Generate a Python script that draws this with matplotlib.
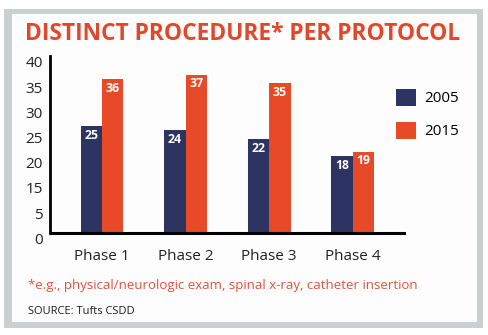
import numpy as np
import matplotlib
matplotlib.use("Agg")
import matplotlib.pyplot as plt
from matplotlib.patches import Rectangle

# data
phases = ["Phase 1", "Phase 2", "Phase 3", "Phase 4"]
series_names = ["2005", "2015"]
vals_2005 = [25, 24, 22, 18]
vals_2015 = [36, 37, 35, 19]
ytick_labels = ["0", "5", "15", "20", "25", "30", "35", "40"]

NAVY = "#2e3461"
ORANGE = "#e84a27"
TITLE_C = "#e1472a"
NOTE_C = "#e0533b"
FRAME = "#c9d0cf"
FONT = "Open Sans"

W, H = 489, 335
fig = plt.figure(figsize=(W / 100, H / 100), dpi=100)
fig.patch.set_facecolor("white")


def px_rect(x0, y0, x1, y1, color, z):
    # rectangle given in pixel coords (y downward)
    fig.patches.append(Rectangle((x0 / W, 1 - y1 / H), (x1 - x0) / W, (y1 - y0) / H,
                                 transform=fig.transFigure, facecolor=color,
                                 edgecolor="none", zorder=z))


# grey frame around the panel
px_rect(4, 9, 483, 328, FRAME, 0)
px_rect(12, 14, 477, 322, "#fdfdfd", 1)

# plot area in pixels
left, right, top, bottom = 50, 406, 56, 241.6
ax = fig.add_axes([left / W, 1 - bottom / H, (right - left) / W, (bottom - top) / H])
ax.set_facecolor("none")
ax.set_zorder(2)

x = np.arange(len(phases))
bw = 0.257
b1 = ax.bar(x - bw / 2, vals_2005, bw, color=NAVY, zorder=2, label=series_names[0])
b2 = ax.bar(x + bw / 2, vals_2015, bw, color=ORANGE, zorder=2, label=series_names[1])

for bars, vals in ((b1, vals_2005), (b2, vals_2015)):
    for r, v in zip(bars, vals):
        ax.text(r.get_x() + r.get_width() / 2, v - 0.6, str(v), ha="center", va="top",
                color="white", fontsize=8.8, fontweight="bold", family=FONT, zorder=3)

ax.set_xlim(-0.623, 3.64)
ax.set_ylim(-2, 41.4)
ax.axhline(0, color="black", lw=2.2, zorder=4)

for s in ("top", "right", "bottom"):
    ax.spines[s].set_visible(False)
ax.spines["left"].set_bounds(0, 41.4)
ax.spines["left"].set_linewidth(2)

ax.set_xticks(x)
ax.set_xticklabels(phases, family=FONT, fontsize=11, color="#222222")
ax.set_yticks(np.linspace(-1.2, 40, len(ytick_labels)))
ax.set_yticklabels(ytick_labels, family=FONT, fontsize=11, color="#222222")
ax.tick_params(axis="both", length=0)
ax.tick_params(axis="x", pad=5)
ax.tick_params(axis="y", pad=5)

leg = fig.legend(handles=[b1, b2], labels=series_names, loc="upper left",
                 bbox_to_anchor=(382 / W, 1 - 75 / H), frameon=False,
                 prop={"family": FONT, "size": 11}, handlelength=1.35, handleheight=1.35,
                 handletextpad=0.5, labelspacing=1.0)

fig.text(25 / W, 1 - 34 / H, "DISTINCT PROCEDURE* PER PROTOCOL", ha="left", va="center",
         color=TITLE_C, fontsize=16.4, fontweight="bold", family=FONT)
fig.text(28 / W, 1 - 286 / H, "*e.g., physical/neurologic exam, spinal x-ray, catheter insertion",
         ha="left", va="center", color=NOTE_C, fontsize=9.5, family=FONT)
fig.text(28 / W, 1 - 311 / H, "SOURCE: Tufts CSDD", ha="left", va="center",
         color="#1a1a1a", fontsize=8, family=FONT)

fig.savefig("out.png", dpi=100, facecolor="white")
